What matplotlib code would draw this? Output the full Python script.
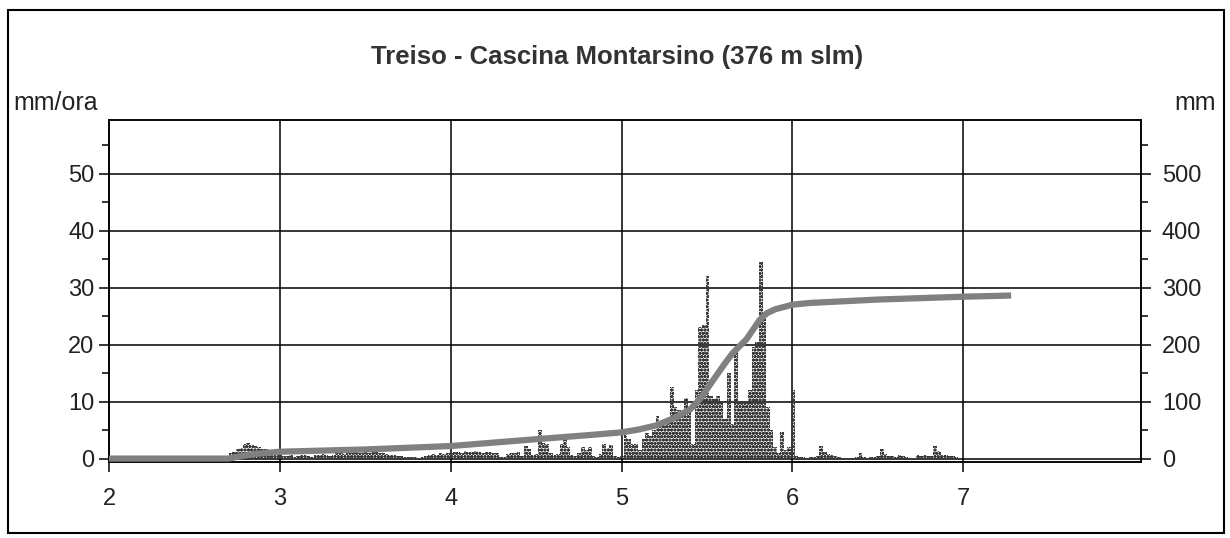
import numpy as np
import matplotlib.pyplot as plt
from matplotlib.patches import Rectangle
from matplotlib.ticker import MultipleLocator

plt.rcParams['font.family'] = ['Liberation Sans', 'DejaVu Sans']
plt.rcParams['hatch.linewidth'] = 1.1

# pioggia oraria (mm/ora), intervalli di 30 minuti a partire dal giorno 2.70
t_inizio = 2.70
passo = 1 / 48
pioggia = [
    1.0, 1.2, 1.7, 1.8, 2.6, 2.8, 2.3, 2.2, 2.0, 1.7, 1.6, 1.2, 1.0, 0.8, 0.6,
    0.5, 0.4, 0.6, 0.3, 0.5, 0.6, 0.7, 0.5, 0.2, 0.6, 0.7, 0.8, 0.6, 0.4, 0.7,
    0.9, 1.0, 0.8, 0.9, 1.0, 1.1, 0.9, 1.0, 1.2, 1.0, 1.1, 1.2, 0.9, 1.0, 0.8,
    0.6, 0.7, 0.5, 0.4,
    0.3, 0.2, 0.3, 0.2, 0.1, 0.3, 0.5, 0.7, 0.8, 0.6, 0.9, 0.8, 1.0, 0.9,
    1.1, 1.2, 1.0, 1.3, 1.2, 1.1, 1.3, 1.2, 1.0, 1.2, 1.1, 0.9, 1.0,
    0.2, 0.3, 0.8, 1.0, 0.9, 1.1, 0.5, 2.2, 1.6, 0.6, 0.8,
    5.0, 2.8, 2.5, 1.0, 0.6, 0.8, 2.5, 3.3, 2.0, 0.6, 0.4, 1.0,
    2.0, 1.5, 2.1, 0.5, 0.3, 0.8, 2.5, 1.8, 2.3, 0.4, 0.3, 0.5,
    4.2, 3.5, 2.6, 2.5, 1.5, 3.5, 4.5, 4.0, 5.1, 7.4, 6.5, 6.0, 6.5,
    12.6, 9.0, 8.5, 8.0, 10.7, 9.0, 2.5, 12.0, 23.0, 23.5, 32.0,
    11.0, 10.5, 11.0, 10.0, 7.0, 15.0, 6.0, 19.6, 10.0, 9.8, 10.0, 12.0,
    19.6, 20.5, 34.4, 25.0, 9.0, 5.0, 2.0, 1.0, 4.7, 1.5, 2.0, 12.0, 0.5,
    0.3, 0.2, 0.0, 0.2, 0.3, 0.5, 2.2, 1.2, 0.8, 0.6, 0.4, 0.3,
    0.0, 0.0, 0.0, 0.0, 0.2, 1.0, 0.2, 0.0, 0.3, 0.2, 0.5, 1.6, 0.8,
    0.4, 0.5, 0.3, 0.6, 0.4, 0.2, 0.1, 0.0, 0.6, 0.5, 0.7, 0.4, 0.5,
    2.2, 1.3, 0.6, 0.7, 0.5, 0.4, 0.2,
]

# pioggia cumulata (mm)
t_cum = [2.0, 2.70, 2.75, 2.85, 3.0, 3.5, 4.0, 4.5, 4.8, 5.0, 5.1, 5.2, 5.3,
         5.4, 5.46, 5.53, 5.6, 5.65, 5.73, 5.81, 5.85, 5.9, 6.0, 6.1, 6.5,
         7.0, 7.28]
cumulata = [0, 0, 3, 8, 12, 16, 22, 34, 41, 46, 51, 58, 70,
            86, 105, 135, 165, 185, 209, 244, 255, 262, 270, 273, 279,
            284, 286]

x_ticks = [2, 3, 4, 5, 6, 7]
y_ticks = [0, 10, 20, 30, 40, 50]
y2_ticks = [0, 100, 200, 300, 400, 500]

fig = plt.figure(figsize=(12.3, 5.38), dpi=100)
ax = fig.add_axes([109 / 1230, 76 / 538, 1032 / 1230, 342 / 538])

t_barre = t_inizio + passo * np.arange(len(pioggia))
ax.bar(t_barre, pioggia, width=passo, align='edge', facecolor='none',
       edgecolor='#3a3a3a', linewidth=0, hatch='ooooo', zorder=2)

ax.set_xlim(2, 8.04)
ax.set_ylim(-0.6, 59.4)
ax.set_xticks(x_ticks)
ax.set_yticks(y_ticks)
ax.yaxis.set_minor_locator(MultipleLocator(5))
ax.grid(True, color='black', linewidth=1.1, zorder=1)
ax.set_axisbelow(True)
for s in ax.spines.values():
    s.set_linewidth(1.1)
ax.tick_params(axis='both', labelsize=17, length=7, width=1.1, direction='out',
               labelcolor='#222222')
ax.tick_params(axis='x', pad=12)
ax.tick_params(axis='y', which='minor', length=5, width=1.1)

ax2 = ax.twinx()
ax2.plot(t_cum, cumulata, color='#808080', linewidth=4.5, solid_capstyle='butt',
         solid_joinstyle='round', zorder=3)
ax2.set_ylim(-6, 594)
ax2.set_yticks(y2_ticks)
ax2.yaxis.set_minor_locator(MultipleLocator(50))
ax2.tick_params(axis='y', labelsize=17, length=7, width=1.1, direction='out', pad=8,
                labelcolor='#222222')
ax2.tick_params(axis='y', which='minor', length=5, width=1.1)
for s in ax2.spines.values():
    s.set_linewidth(1.1)

fig.text(617 / 1230, 1 - 57 / 538, 'Treiso - Cascina Montarsino (376 m slm)',
         ha='center', va='center', fontsize=18.5, fontweight='bold', color='#333333')
fig.text(13 / 1230, 1 - 103 / 538, 'mm/ora', ha='left', va='center', fontsize=18,
         color='#222222')
fig.text(1174 / 1230, 1 - 103 / 538, 'mm', ha='left', va='center', fontsize=18,
         color='#222222')

fig.patches.append(Rectangle((8 / 1230, 5 / 538), 1216 / 1230, 523 / 538,
                             transform=fig.transFigure, fill=False,
                             edgecolor='black', linewidth=1.5))

fig.savefig('out.png', dpi=100, facecolor='white')
